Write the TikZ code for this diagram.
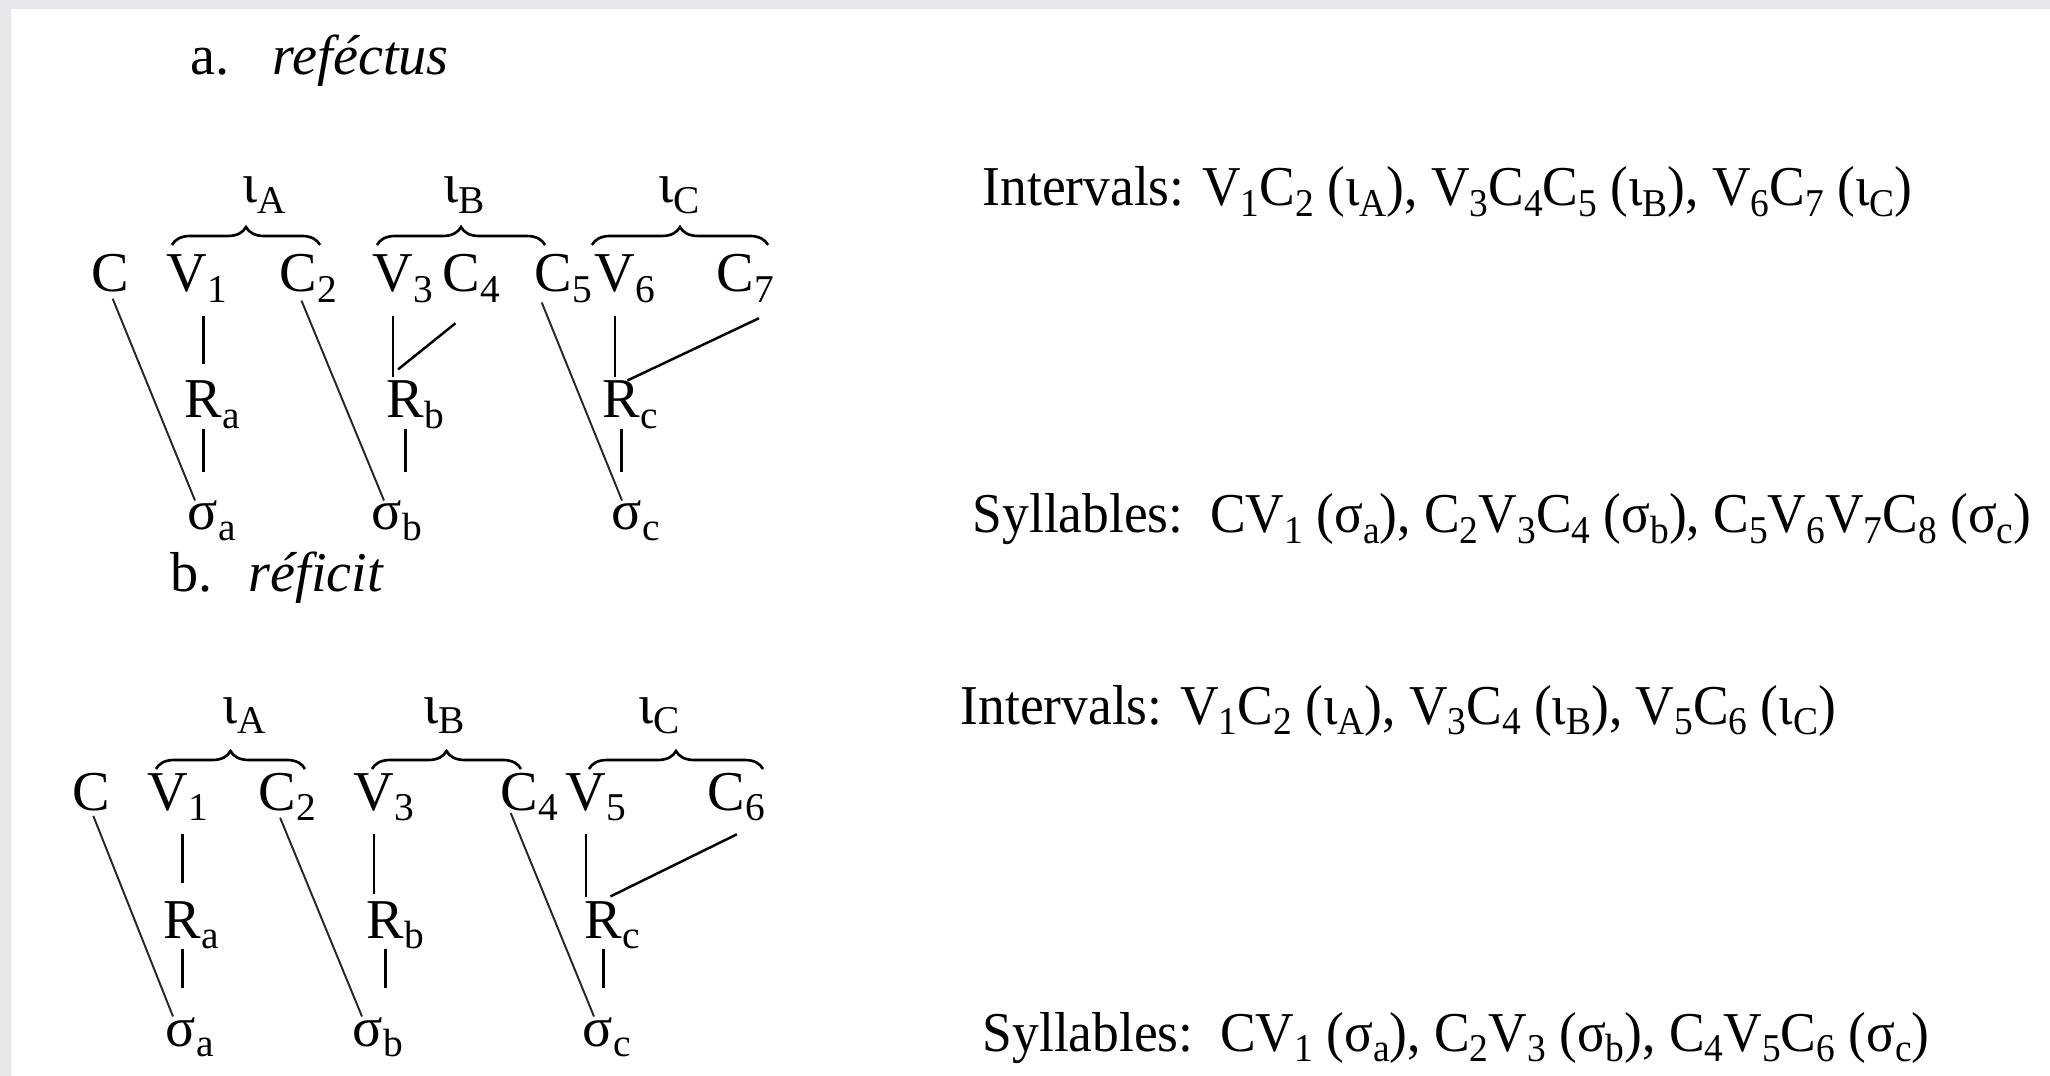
\documentclass[tikz,border=0pt]{standalone}
\usepackage{graphicx}
\usepackage{fontspec}
\setmainfont{Liberation Serif}
\newfontfamily\narrowserif{Liberation Serif}[FakeStretch=0.95]
\usetikzlibrary{calc,decorations.pathreplacing}
\definecolor{framegray}{RGB}{229,231,234}
% lowered subscript, and a letter whose subscript takes no room
\newcommand{\lo}[1]{\raisebox{-0.18em}[0pt][0pt]{\scalebox{0.7}{#1}}}
\newcommand{\tsub}[2]{#1\rlap{\lo{#2}}}

\begin{document}
\begin{tikzpicture}[x=0.01cm,y=-0.01cm,
    seg/.style={inner sep=0pt, anchor=base west, font=\fontsize{16}{19}\selectfont},
    summary/.style={seg, font=\fontsize{16}{19}\narrowserif},
    stem/.style={line width=0.75pt, shorten <=0.22cm, shorten >=0.03cm},
    rstem/.style={line width=0.75pt, shorten <=0.1cm, shorten >=0.28cm},
    tie/.style={line width=0.55pt, black!85},
    interval/.style={draw, line width=0.75pt, decorate, decoration={brace, amplitude=0.18cm}}]
    \useasboundingbox(0,0)rectangle(2050,1076);
    % frame
    \path[fill = framegray](0,0)rectangle(2050,1076);
    \path[fill = white](11,9)rectangle(2050,1076);

    % a. reféctus
    \node[seg](la)at(190,75){a.};
    \node[seg](wa)at(272,75){\textit{reféctus}};
    % segments
    \node[seg](aC)at(91,292){C};
    \node[seg](aV1)at(166,292){\tsub{V}{1}};
    \node[seg](aC2)at(279,292){\tsub{C}{2}};
    \node[seg](aV3)at(372,292){\tsub{V}{3}};
    \node[seg](aC4)at(442,292){\tsub{C}{4}};
    \node[seg](aC5)at(534,292){\tsub{C}{5}};
    \node[seg](aV6)at(594,292){\tsub{V}{6}};
    \node[seg](aC7)at(716,292){\tsub{C}{7}};
    % rhymes, syllables
    \node[seg](aRa)at(184,418){\tsub{R}{a}};
    \node[seg](aRb)at(386,418){\tsub{R}{b}};
    \node[seg](aRc)at(602,418){\tsub{R}{c}};
    \node[seg](aSa)at(187,530){\tsub{σ}{a}};
    \node[seg](aSb)at(371,530){\tsub{σ}{b}};
    \node[seg](aSc)at(611,530){\tsub{σ}{c}};
    % intervals
    \node[seg](aIA)at(242,203){ι\lo{A}};
    \node[seg](aIB)at(443,203){ι\lo{B}};
    \node[seg](aIC)at(658,203){ι\lo{C}};
    \path[interval](172,245)--(320,245);
    \path[interval](377,245)--(545,245);
    \path[interval](592,245)--(768,245);
    % links
    \path[draw, tie, shorten <=0.06cm](aC.south)to($(aSa.north west)+(8,0)$);
    \path[draw, tie, shorten <=0.08cm](aC2.south)to($(aSb.north west)+(13,0)$);
    \path[draw, tie, shorten <=0.1cm]($(aC5.south west)+(4,0)$)to($(aSc.north west)+(11,0)$);
    \path[draw, stem, shorten >=0.16cm](aRa.north |- aV1.south)to(aRa.north);
    \path[draw, rstem](aRa.south)to(aRa.south |- aSa.north);
    \path[draw, stem](aV3.south)to(aV3.south |- aRb.north);
    \path[draw, line width=0.7pt]($(aC4.south)+(-6,30)$)to($(aV3.south |- aRb.north)+(5,-11)$);
    \path[draw, rstem](aRb.south)to(aRb.south |- aSb.north);
    \path[draw, stem](aV6.south)to(aV6.south |- aRc.north);
    \path[draw, line width=0.7pt]($(aC7.south east)+(4,25)$)to($(aRc.north)+(6,0)$);
    \path[draw, rstem](aRc.south)to(aRc.south |- aSc.north);

    % b. réficit
    \node[seg](lb)at(170,592){b.};
    \node[seg](wb)at(248,592){\textit{réficit}};
    % segments
    \node[seg](bC)at(72,810){C};
    \node[seg](bV1)at(147,810){\tsub{V}{1}};
    \node[seg](bC2)at(258,810){\tsub{C}{2}};
    \node[seg](bV3)at(353,810){\tsub{V}{3}};
    \node[seg](bC4)at(500,810){\tsub{C}{4}};
    \node[seg](bV5)at(565,810){\tsub{V}{5}};
    \node[seg](bC6)at(707,810){\tsub{C}{6}};
    % rhymes, syllables
    \node[seg](bRa)at(163,938){\tsub{R}{a}};
    \node[seg](bRb)at(366,938){\tsub{R}{b}};
    \node[seg](bRc)at(584,938){\tsub{R}{c}};
    \node[seg](bSa)at(165,1046){\tsub{σ}{a}};
    \node[seg](bSb)at(352,1046){\tsub{σ}{b}};
    \node[seg](bSc)at(582,1046){\tsub{σ}{c}};
    % intervals
    \node[seg](bIA)at(222,723){ι\lo{A}};
    \node[seg](bIB)at(423,723){ι\lo{B}};
    \node[seg](bIC)at(638,723){ι\lo{C}};
    \path[interval](156,769)--(305,769);
    \path[interval](372,769)--(521,769);
    \path[interval](589,769)--(763,769);
    % links
    \path[draw, tie, shorten <=0.05cm](bC.south)to($(bSa.north west)+(8,0)$);
    \path[draw, tie, shorten <=0.07cm](bC2.south)to($(bSb.north west)+(10,0)$);
    \path[draw, tie, shorten <=0.02cm]($(bC4.south west)+(10,0)$)to($(bSc.north west)+(12,0)$);
    \path[draw, stem, shorten >=0.17cm](bRa.north |- bV1.south)to(bRa.north);
    \path[draw, rstem](bRa.south)to(bRa.south |- bSa.north);
    \path[draw, stem, shorten >=0.06cm](bV3.south)to(bV3.south |- bRb.north);
    \path[draw, rstem](bRb.south)to(bRb.south |- bSb.north);
    \path[draw, stem](bV5.south)to(bV5.south |- bRc.north);
    \path[draw, line width=0.7pt]($(bC6.south east)+(-9,23)$)to($(bRc.north)+(7,-4)$);
    \path[draw, rstem](bRc.south)to(bRc.south |- bSc.north);

    % summaries
    \node[summary](txtIa)at(982,206){Intervals: V\lo{1}C\lo{2} (ι\lo{A}), V\lo{3}C\lo{4}C\lo{5} (ι\lo{B}), V\lo{6}C\lo{7} (ι\lo{C})};
    \node[summary](txtSa)at(972,533){Syllables:\ \ CV\lo{1} (σ\lo{a}), C\lo{2}V\lo{3}C\lo{4} (σ\lo{b}), C\lo{5}V\lo{6}V\lo{7}C\lo{8} (σ\lo{c})};
    \node[summary](txtIb)at(960,724){Intervals: V\lo{1}C\lo{2} (ι\lo{A}), V\lo{3}C\lo{4} (ι\lo{B}), V\lo{5}C\lo{6} (ι\lo{C})};
    \node[summary](txtSb)at(982,1051){Syllables:\ \ CV\lo{1} (σ\lo{a}), C\lo{2}V\lo{3} (σ\lo{b}), C\lo{4}V\lo{5}C\lo{6} (σ\lo{c})};
\end{tikzpicture}
\end{document}
